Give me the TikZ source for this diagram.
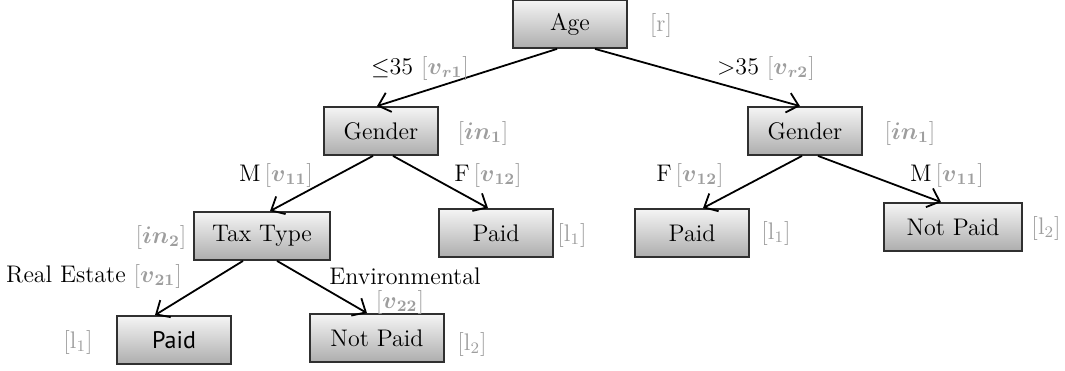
\documentclass[tikz,border=0pt]{standalone}
\usepackage{amsmath, amssymb}
\usepackage{fontspec}
\setsansfont{PT Sans}
\usepackage{xcolor}
\usepackage{tikz}
\usetikzlibrary{arrows.meta}
\definecolor{tagGray}{HTML}{9E9E9E}
\definecolor{boxEdge}{HTML}{303030}
\tikzset{
    treenode/.style={draw=boxEdge, line width=0.9pt, top color=black!4, bottom color=black!32, minimum height=24pt, minimum width=57pt, inner sep=2pt, font=\fontsize{12}{14}\selectfont},
    branch/.style={line width=0.9pt, -{Straight Barb[length=5.5pt,width=10pt]}},
    tag/.style={text=tagGray, font=\fontsize{12}{14}\selectfont, inner sep=1pt},
    cond/.style={font=\fontsize{12}{14}\selectfont, inner sep=1pt}
}
\newcommand{\vtag}[1]{\textcolor{tagGray}{$[\boldsymbol{v}_{\boldsymbol{#1}}]$}}
\newcommand{\intag}[1]{$[\boldsymbol{in}_{\boldsymbol{#1}}]$}
\newcommand{\ltag}[1]{$[\mathrm{l}_{#1}]$}

\begin{document}
\begin{tikzpicture}[x=0.5pt, y=-0.5pt]
    \useasboundingbox (0,0) rectangle (1065,370);
    % tree nodes
    \node[treenode] (age) at (570,24) {Age};
    \node[treenode] (genL) at (381,131) {Gender};
    \node[treenode] (genR) at (805,131) {Gender};
    \node[treenode, minimum width=68pt] (tax) at (262,236) {Tax Type};
    \node[treenode] (paidM) at (496,233) {Paid};
    \node[treenode] (paidR) at (692,233) {Paid};
    \node[treenode, minimum width=69pt] (notR) at (953,227) {Not Paid};
    \node[treenode, font=\sffamily\fontsize{12}{14}\selectfont] (paidB) at (174,340) {Paid};
    \node[treenode, minimum width=67pt] (notB) at (377,338) {Not Paid};
    % branches
    \draw[branch] ([xshift=-6.5pt]age.south) -- ([xshift=-2pt]genL.north);
    \draw[branch] ([xshift=12.5pt]age.south) -- ([xshift=-2.5pt]genR.north);
    \draw[branch] ([xshift=-4pt]genL.south) -- ([xshift=4pt]tax.north);
    \draw[branch] ([xshift=6pt]genL.south) -- ([xshift=-4pt]paidM.north);
    \draw[branch] ([xshift=-1.5pt]genR.south) -- ([xshift=5.5pt]paidR.north);
    \draw[branch] ([xshift=6.5pt]genR.south) -- ([xshift=-6pt]notR.north);
    \draw[branch] ([xshift=-9.5pt]tax.south) -- ([xshift=-9.5pt]paidB.north);
    \draw[branch] ([xshift=7.5pt]tax.south) -- ([xshift=-5pt]notB.north);
    % branch conditions
    \node[cond] (cAgeL) at (420,68) {$\leq$35 \vtag{r1}};
    \node[cond] (cAgeR) at (766,68) {>35 \vtag{r2}};
    \node[cond] (cGenLM) at (276,175) {M\,\vtag{11}};
    \node[cond] (cGenLF) at (488,175) {F\,\vtag{12}};
    \node[cond] (cGenRF) at (690,175) {F\,\vtag{12}};
    \node[cond] (cGenRM) at (947,175) {M\,\vtag{11}};
    \node[cond] (cTaxRE) at (94,276) {Real Estate \vtag{21}};
    \node[cond] (cTaxEnv) at (405,276) {Environmental};
    \node[cond] (cTaxEnvV) at (400,302) {\vtag{22}};
    % node tags
    \node[tag] (tAge) at (661,25) {[r]};
    \node[tag] (tGenL) at (483,133) {\intag{1}};
    \node[tag] (tGenR) at (910,133) {\intag{1}};
    \node[tag] (tTax) at (161,237) {\intag{2}};
    \node[tag] (tPaidM) at (572,235) {\ltag{1}};
    \node[tag] (tPaidR) at (776,233) {\ltag{1}};
    \node[tag] (tNotR) at (1046,228) {\ltag{2}};
    \node[tag] (tPaidB) at (78,342) {\ltag{1}};
    \node[tag] (tNotB) at (472,344) {\ltag{2}};
\end{tikzpicture}
\end{document}
